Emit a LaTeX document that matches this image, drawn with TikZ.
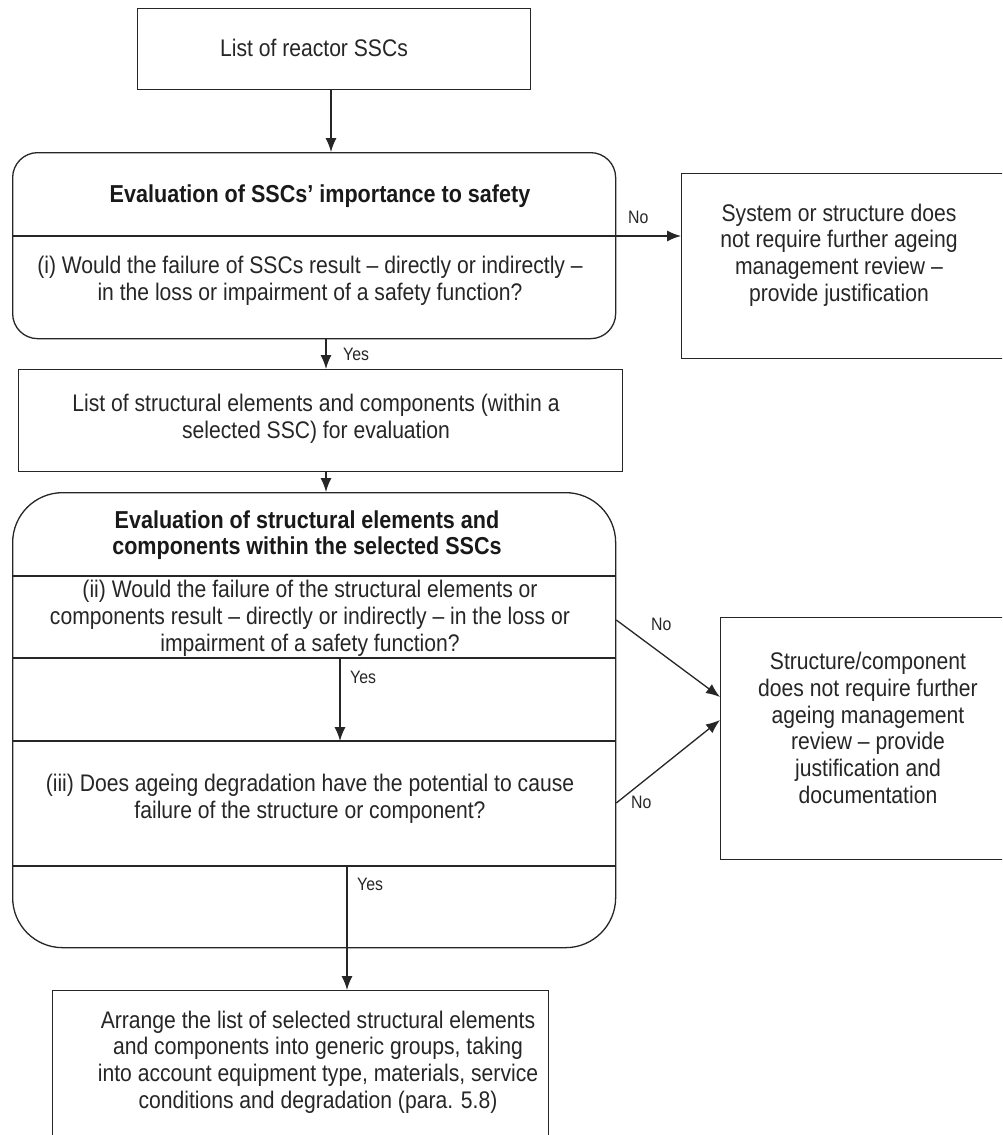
\documentclass[tikz,border=0pt]{standalone}
\usepackage{fontspec}
\setmainfont{Liberation Sans}[FakeStretch=0.88]
\usetikzlibrary{arrows.meta}
\begin{document}
\begin{tikzpicture}[x=1pt,y=-1pt,
 lines/.style={line width=1.3pt, draw=black!85},
 txt/.style={align=center, font=\fontsize{24}{26.8}\selectfont, text=black!85, inner sep=0},
 ttl/.style={align=center, font=\bfseries\fontsize{24.5}{26}\selectfont, text=black!90, inner sep=0},
 lab/.style={font=\fontsize{18}{20}\selectfont, inner sep=0, text=black!85, anchor=west},
 arr/.style={lines, -{Latex[length=14pt,width=11pt]}},
 box/.style={lines, rectangle, inner sep=0, anchor=north west}]
\clip (0,0) rectangle (1002,1135);
\fill[white] (0,0) rectangle (1002,1135);
% top box
\node[box, minimum width=393, minimum height=81] (b1) at (137,8) {};
\node[txt] (t1) at (314,48) {List of reactor SSCs};
% first evaluation
\node[box, rounded corners=25, minimum width=603, minimum height=186] (r1) at (12,152) {};
\draw[lines] (r1.west |- 0,236) -- (r1.east |- 0,236);
\node[ttl] (t2) at (320,196) {Evaluation of SSCs’ importance to safety};
\node[txt] (t3) at (310,281) {(i) Would the failure of SSCs result – directly or indirectly –\\in the loss or impairment of a safety function?};
\draw[arr] (b1.south -| 331,0) -- (r1.north -| 331,0);
% right box 1
\node[box, minimum width=340, minimum height=185] (n1) at (681,173) {};
\node[txt] (t4) at (839,255) {System or structure does\\not require further ageing\\management review –\\provide justification};
\draw[arr] (r1.east |- 0,236) -- (n1.west |- 0,236);
\node[lab] (l1) at (628,217) {No};
% list of structural elements
\node[box, minimum width=604, minimum height=102] (b3) at (18,369) {};
\node[txt] (t5) at (316,419) {List of structural elements and components (within a\\selected SSC) for evaluation};
\draw[arr] (r1.south -| 326,0) -- (b3.north -| 326,0);
\node[lab] (l2) at (343,354) {Yes};
% second evaluation
\node[box, rounded corners=50, minimum width=603, minimum height=455] (r2) at (12,492) {};
\draw[arr] (b3.south -| 326,0) -- (r2.north -| 326,0);
\node[ttl] (t6) at (307,535) {Evaluation of structural elements and\\components within the selected SSCs};
\draw[lines] (r2.west |- 0,576) -- (r2.east |- 0,576);
\node[txt] (t7) at (310,618) {(ii) Would the failure of the structural elements or\\components result – directly or indirectly – in the loss or\\impairment of a safety function?};
\draw[lines] (r2.west |- 0,658) -- (r2.east |- 0,658);
\coordinate (y1) at (340,658);
\coordinate (y2) at (340,741);
\draw[arr] (y1) -- (y2);
\node[lab] (l3) at (350,677) {Yes};
\draw[lines] (r2.west |- 0,741) -- (r2.east |- 0,741);
\node[txt] (t8) at (310,799) {(iii) Does ageing degradation have the potential to cause\\failure of the structure or component?};
\draw[lines] (r2.west |- 0,866) -- (r2.east |- 0,866);
\node[lab] (l4) at (357,884) {Yes};
% right box 2
\node[box, minimum width=300, minimum height=242] (n2) at (720,617) {};
\node[txt] (t9) at (868,728) {Structure/component\\does not require further\\ageing management\\review – provide\\justification and\\documentation};
\draw[arr] (r2.east |- 0,620) -- (n2.west |- 0,697);
\draw[arr] (r2.east |- 0,803) -- (n2.west |- 0,720);
\node[lab] (l5) at (651,624) {No};
\node[lab] (l6) at (631,802) {No};
% bottom box
\node[box, minimum width=496, minimum height=160] (b5) at (52,990) {};
\node[txt] (t10) at (318,1062) {Arrange the list of selected structural elements\\and components into generic groups, taking\\into account equipment type, materials, service\\conditions and degradation (para. 5.8)};
\draw[arr] (r2.south -| 347,0) ++(0,-81) -- (b5.north -| 347,0);
\end{tikzpicture}
\end{document}
